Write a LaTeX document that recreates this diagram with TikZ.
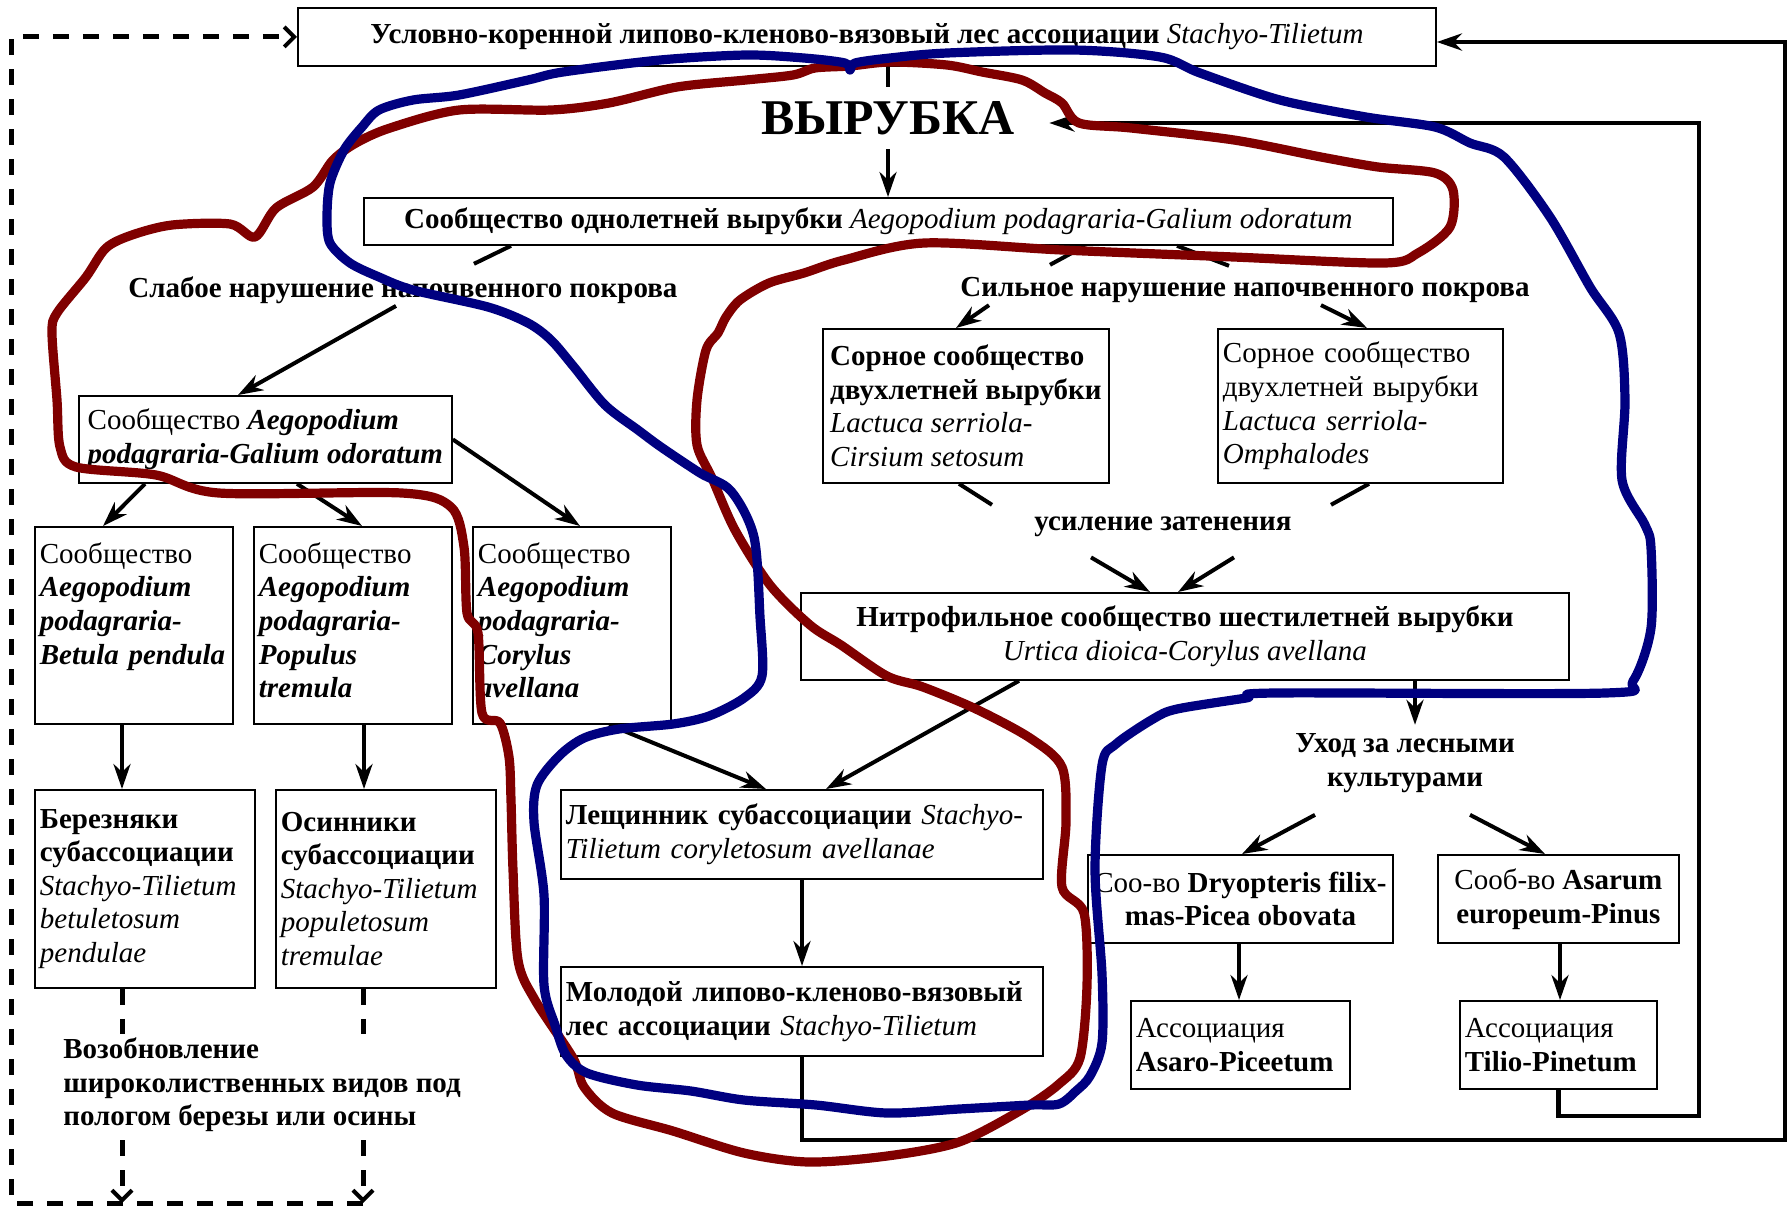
\documentclass[tikz,border=0pt]{standalone}
\usepackage{fontspec}
\setmainfont{Liberation Serif}
\usetikzlibrary{arrows.meta}
\definecolor{penred}{RGB}{128,0,0}
\definecolor{penblue}{RGB}{0,0,128}
\tikzset{
  bx/.style={draw, line width=0.9pt, anchor=north west, inner xsep=2.5pt, inner ysep=0pt, font=\fontsize{14.5}{16.8}\selectfont},
  tb/.style={bx, align=left, text width=94pt, text height=11.8pt, text depth=73.9pt, inner ysep=6.4pt},
  lb/.style={inner sep=1pt, font=\fontsize{14.5}{16.8}\selectfont\bfseries},
  ln/.style={line width=2pt},
  ar/.style={line width=2pt, -{Stealth[length=12.5pt, width=8.5pt, inset=4pt]}},
  dl/.style={line width=2.5pt, dash pattern=on 8pt off 7pt},
  da/.style={dl, -{Straight Barb[length=5pt, width=10pt, line width=2pt]}},
  pr/.style={line width=4.6pt, color=penred, line join=round},
  pb/.style={line width=4.6pt, color=penblue, line join=round}
}
\begin{document}
\begin{tikzpicture}[x=0.5pt, y=-0.5pt]
\useasboundingbox (0,0) rectangle (1791,1207);

% top of the scheme
\node[bx, minimum width=569pt, minimum height=29pt] (old) at (297,7) {\textbf{Условно-коренной липово-кленово-вязовый лес ассоциации} \textit{Stachyo-Tilietum}};
\node[inner xsep=17pt, inner ysep=7pt, font=\fontsize{25}{30}\selectfont\bfseries] (cut) at (888,118) {ВЫРУБКА};
\node[bx, minimum width=514.5pt, minimum height=23.5pt] (one) at (363,197) {\textbf{Сообщество однолетней вырубки} \textit{Aegopodium podagraria-Galium odoratum}};
\node[lb] (weak) at (403,290) {Слабое нарушение напочвенного покрова};
\node[lb] (strong) at (1245,290) {Сильное нарушение напочвенного покрова};

% left branch
\node[bx, align=left, minimum width=186.5pt, minimum height=43.5pt] (gal) at (78,395) {Сообщество \textbf{\textit{Aegopodium}}\\\textbf{\textit{podagraria-Galium odoratum}}};
\node[tb] (bet) at (34,526) {Сообщество\\\textbf{\textit{Aegopodium}}\\\textbf{\textit{podagraria-}}\\\textbf{\textit{Betula pendula}}};
\node[tb] (pop) at (253,526) {Сообщество\\\textbf{\textit{Aegopodium}}\\\textbf{\textit{podagraria-}}\\\textbf{\textit{Populus}}\\\textbf{\textit{tremula}}};
\node[tb] (cor) at (472,526) {Сообщество\\\textbf{\textit{Aegopodium}}\\\textbf{\textit{podagraria-}}\\\textbf{\textit{Corylus}}\\\textbf{\textit{avellana}}};
\node[bx, align=left, text width=105pt, minimum height=99pt] (ber) at (34,789) {\textbf{Березняки}\\\textbf{субассоциации}\\\textit{Stachyo-Tilietum}\\\textit{betuletosum}\\\textit{pendulae}};
\node[bx, align=left, text width=105pt, minimum height=99pt] (osi) at (275,789) {\textbf{Осинники}\\\textbf{субассоциации}\\\textit{Stachyo-Tilietum}\\\textit{populetosum}\\\textit{tremulae}};
\node[lb, align=left, anchor=west] (ren) at (61,1085) {Возобновление\\широколиственных видов под\\пологом березы или осины};

% right branch
\node[bx, align=left, minimum width=143pt, minimum height=77pt] (w1) at (822,328) {\textbf{Сорное сообщество}\\\textbf{двухлетней вырубки}\\\textit{Lactuca serriola-}\\\textit{Cirsium setosum}};
\node[bx, align=left, text width=137.5pt, minimum height=77pt] (w2) at (1217,328) {Сорное сообщество\\двухлетней вырубки\\\textit{Lactuca serriola-}\\\textit{Omphalodes}};
\node[lb] (shade) at (1163,527) {усиление затенения};
\node[bx, align=center, minimum width=384pt, minimum height=43.5pt] (nit) at (800,592) {\textbf{Нитрофильное сообщество шестилетней вырубки}\\\textit{Urtica dioica-Corylus avellana}};
\node[bx, align=left, text width=236pt, minimum height=44.5pt] (haz) at (560,789) {\textbf{Лещинник субассоциации} \textit{Stachyo-}\\\textit{Tilietum coryletosum avellanae}};
\node[bx, align=left, text width=236pt, minimum height=44.5pt] (yng) at (560,966) {\textbf{Молодой липово-кленово-вязовый}\\\textbf{лес ассоциации} \textit{Stachyo-Tilietum}};
\node[lb, align=center] (care) at (1405,763) {Уход за лесными\\культурами};
\node[bx, align=center, minimum width=152.5pt, minimum height=44pt] (dry) at (1087,854) {Соо-во \textbf{Dryopteris filix-}\\\textbf{mas-Picea obovata}};
\node[bx, align=center, minimum width=120.5pt, minimum height=44pt] (asa) at (1437,854) {Сооб-во \textbf{Asarum}\\\textbf{europeum-Pinus}};
\node[bx, align=left, text width=104.5pt, minimum height=44pt] (apc) at (1130,1000) {Ассоциация\\\textbf{Asaro-Piceetum}};
\node[bx, align=left, text width=93.5pt, minimum height=44pt] (tpn) at (1459,1000) {Ассоциация\\\textbf{Tilio-Pinetum}};

% main chain
\draw[ln] (cut.north |- old.south) -- (cut.north);
\draw[ar] (cut.south) -- (cut.south |- one.north);
\draw[ln] ([xshift=74pt]one.south west) -- ++(-37,18);
\draw[ar] ([xshift=-3.5pt]weak.south) -- ([xshift=80pt]gal.north west);
\draw[ln] ([xshift=361pt]one.south west) -- ++(-35,19);
\draw[ln] ([xshift=407pt]one.south west) -- ++(52,20);
\draw[ar] ([xshift=-128pt]strong.south) -- ([xshift=67pt]w1.north west);
\draw[ar] ([xshift=38pt]strong.south) -- ([xshift=75pt]w2.north west);
\draw[ln] ([xshift=68.5pt]w1.south west) -- ++(33,21);
\draw[ln] ([xshift=76pt]w2.south west) -- ++(-38,21);
\draw[ar] (shade.south) ++(-72,18) -- ([xshift=175pt]nit.north west);
\draw[ar] (shade.south) ++(71,18) -- ([xshift=189pt]nit.north west);

% left fan
\draw[ar] ([xshift=33.5pt]gal.south west) -- ([xshift=34.5pt]bet.north west);
\draw[ar] ([xshift=109.5pt]gal.south west) -- ([xshift=54.5pt]pop.north west);
\draw[ar] (gal.east) -- ([xshift=54pt]cor.north west);
\draw[ar] ([xshift=44pt]bet.south west) -- ([xshift=44pt]ber.north west);
\draw[ar] ([xshift=55.5pt]pop.south west) -- ([xshift=44.5pt]osi.north west);

% renewal back to the old forest
\coordinate (db) at (122,1203);
\coordinate (dp) at (363,1203);
\coordinate (dc) at (11,1203);
\draw[dl] ([xshift=44pt]ber.south west) -- ++(0,45);
\draw[dl] ([xshift=44pt]osi.south west) -- ++(0,45);
\draw[da] (db) ++(0,-63) -- (db);
\draw[da] (dp) ++(0,-63) -- (dp);
\draw[da] (dp) -- (dc) |- (old.west);

% hazel and young forest
\draw[ar] ([xshift=68.5pt]cor.south west) -- ([xshift=103pt]haz.north west);
\draw[ar] ([xshift=109.5pt]nit.south west) -- ([xshift=133pt]haz.north west);
\draw[ar] ([xshift=121pt]haz.south west) -- ([xshift=121pt]yng.north west);
\coordinate (rb) at (1785,1140);
\coordinate (rt) at (1785,42);
\draw[ar, line width=2.3pt] ([xshift=121pt]yng.south west) |- (rb) -- (rt) -- (rt -| old.east);

% forest cultures
\draw[ar] ([xshift=307.5pt]nit.south west) -- ++(0,44);
\draw[ar] (care.south) ++(-90,20) -- ([xshift=77.5pt]dry.north west);
\draw[ar] (care.south) ++(65,20) -- ([xshift=54pt]asa.north west);
\draw[ar] ([xshift=76pt]dry.south west) -- ([xshift=54.5pt]apc.north west);
\draw[ar] ([xshift=61.5pt]asa.south west) -- ([xshift=50.5pt]tpn.north west);
\coordinate (mb) at (1699,1116);
\coordinate (mt) at (1699,123);
\draw[ar, line width=2.3pt] (tpn.south) |- (mb) -- (mt) -- (mt -| cut.east);

% hand drawn outlines
\draw[pr] plot[smooth cycle, tension=0.5] coordinates {(890,62) (947,65) (982,72) (1022,80) (1045,93) (1062,103) (1079,123) (1131,128) (1234,140) (1321,157) (1378,167) (1435,173) (1453,190) (1450,227) (1418,253) (1384,263) (1234,257) (1062,250) (924,243) (844,260) (804,273) (769,283) (740,300) (726,317) (718,333) (706,350) (697,400) (697,445) (712,478) (735,530) (770,585) (810,625) (841,645) (887,676) (923,687) (976,709) (1030,738) (1062,767) (1066,822) (1062,887) (1084,913) (1087,985) (1080,1058) (1059,1084) (1023,1109) (959,1142) (887,1156) (809,1162) (744,1153) (673,1131) (612,1113) (584,1087) (573,1058) (535,1000) (518,960) (513,870) (511,800) (509,757) (500,723) (482,713) (478,633) (467,613) (464,547) (451,507) (402,493) (219,493) (156,475) (76,467) (60,447) (57,400) (52,333) (57,313) (86,277) (106,248) (132,235) (172,225) (230,224) (255,237) (276,208) (313,187) (333,160) (356,143) (390,128) (459,110) (551,110) (609,103) (677,87) (746,80) (793,75) (815,68) (850,66)};
\draw[pb] plot[smooth cycle, tension=0.5] coordinates {(947,53) (890,58) (855,63) (850,70) (845,63) (804,58) (746,55) (660,60) (563,72) (528,80) (459,95) (413,100) (379,110) (362,127) (344,150) (330,183) (327,217) (330,243) (350,263) (379,277) (413,290) (488,307) (528,323) (551,340) (574,367) (605,405) (638,430) (661,447) (700,473) (731,491) (754,537) (760,617) (762,676) (744,698) (709,716) (673,724) (619,729) (584,738) (559,756) (537,785) (534,822) (544,895) (544,985) (555,1025) (566,1055) (587,1073) (637,1085) (691,1091) (744,1100) (816,1105) (887,1113) (959,1109) (1030,1105) (1059,1104) (1076,1091) (1090,1076) (1102,1043) (1102,974) (1095,869) (1102,765) (1116,744) (1153,719) (1177,709) (1246,698) (1274,693) (1605,693) (1633,681) (1651,628) (1651,548) (1645,525) (1622,480) (1625,400) (1619,333) (1590,287) (1550,217) (1504,157) (1470,143) (1435,127) (1366,117) (1280,100) (1200,73) (1160,57) (1074,50)};
\end{tikzpicture}
\end{document}
